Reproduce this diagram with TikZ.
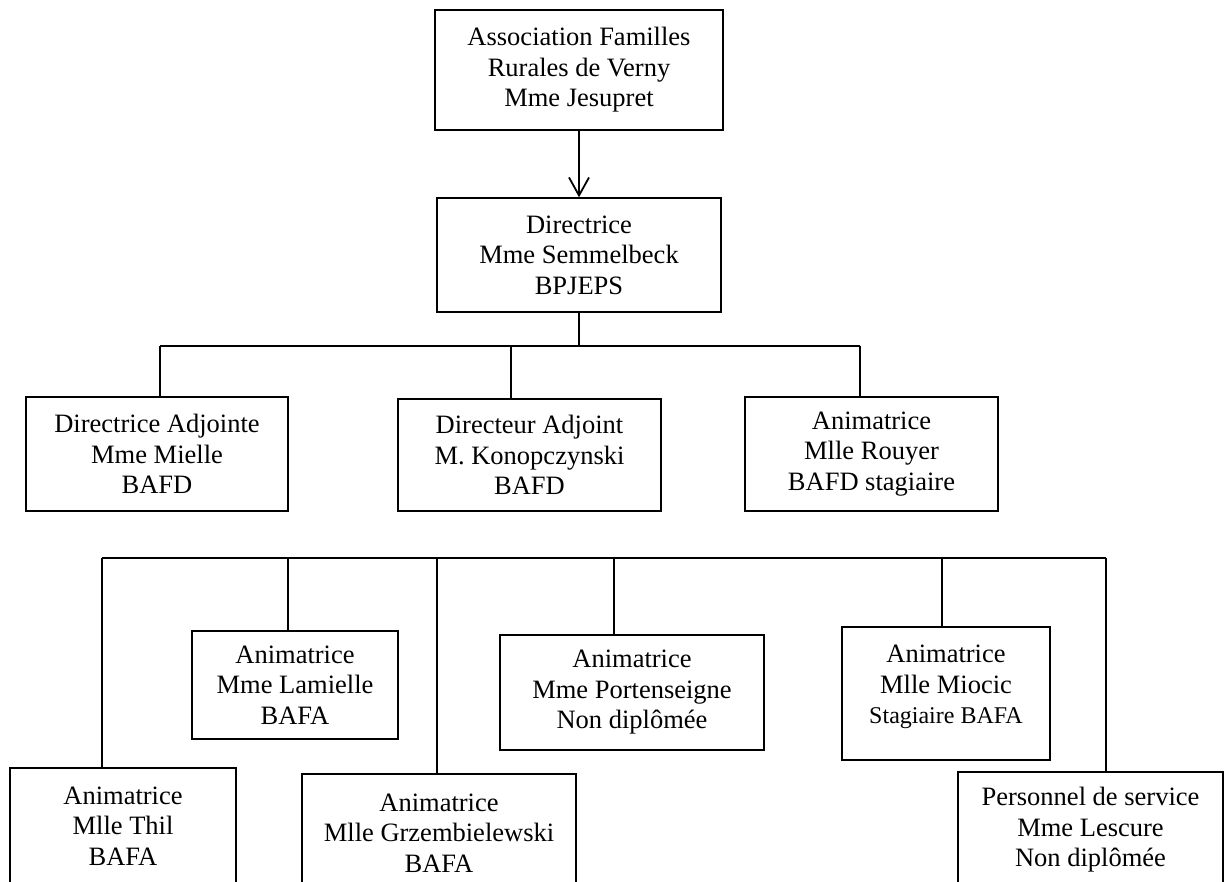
\documentclass[tikz,border=0pt]{standalone}
\usepackage{fontspec}
\setmainfont{Liberation Serif}
\usetikzlibrary{arrows.meta}

\begin{document}
\begin{tikzpicture}[x=0.5pt,y=-0.5pt,
    poste/.style 2 args={draw,line width=0.7pt,inner sep=0pt,align=center,
        minimum width=#1*0.5pt,minimum height=#2*0.5pt,
        font=\fontsize{13.25}{15.25}\selectfont},
    lien/.style={line width=0.9pt},
    fleche/.style={line width=0.9pt,-{Straight Barb[length=9pt,width=10pt]}}]
        % Frame (bottom boxes run off the page)
        \useasboundingbox (0,0) rectangle (1226,882);
        \clip (0,0) rectangle (1226,882);
        % Top of the chart
        \node[poste={288}{120}] (assoc) at (579,70)
            {Association Familles\\Rurales de Verny\\Mme Jesupret};
        \node[poste={284}{114}] (dir) at (579,255)
            {Directrice\\Mme Semmelbeck\\BPJEPS};
        \draw[fleche] (assoc) -- (dir);
        % Second row
        \node[poste={262}{114}] (adjte) at (157,454)
            {Directrice Adjointe\\Mme Mielle\\BAFD};
        \node[poste={263}{112}] (adjt) at (529.5,455)
            {Directeur Adjoint\\M. Konopczynski\\BAFD};
        \node[poste={253}{114}] (rouyer) at (871.5,454)
            {Animatrice\\Mlle Rouyer\\BAFD stagiaire};
        % Third row
        \node[poste={226}{116}] (thil) at (123,826)
            {Animatrice\\Mlle Thil\\BAFA};
        \node[poste={206}{108}] (lamielle) at (295,685)
            {Animatrice\\Mme Lamielle\\BAFA};
        \node[poste={274}{118}] (grzem) at (439,833)
            {Animatrice\\Mlle Grzembielewski\\BAFA};
        \node[poste={264}{115}] (porten) at (632,692.5)
            {Animatrice\\Mme Portenseigne\\Non diplômée};
        \node[poste={208}{133}] (miocic) at (946,693.5)
            {Animatrice\\Mlle Miocic\\{\fontsize{12}{14}\selectfont Stagiaire BAFA}\\[-6pt]\mbox{}};
        \node[poste={265}{116}] (lescure) at (1090.5,830)
            {Personnel de service\\Mme Lescure\\Non diplômée};
        % Bus under the directrice
        \coordinate (busA) at (160,346);
        \coordinate (busB) at (860,346);
        \draw[lien] (dir.south) -- (dir.south |- busA);
        \draw[lien] (busA) -- (busB);
        \foreach \n/\x in {adjte/160,adjt/511,rouyer/860} {
            \coordinate (t) at (\x,346);
            \draw[lien] (t) -- (t |- \n.north);
        }
        % Bus of the team
        \coordinate (busC) at (102,558);
        \coordinate (busD) at (1106,558);
        \draw[lien] (busC) -- (busD);
        \foreach \n/\x in {thil/102,lamielle/288,grzem/437,porten/614,miocic/942,lescure/1106} {
            \coordinate (t) at (\x,558);
            \draw[lien] (t) -- (t |- \n.north);
        }
    \end{tikzpicture}
\end{document}
